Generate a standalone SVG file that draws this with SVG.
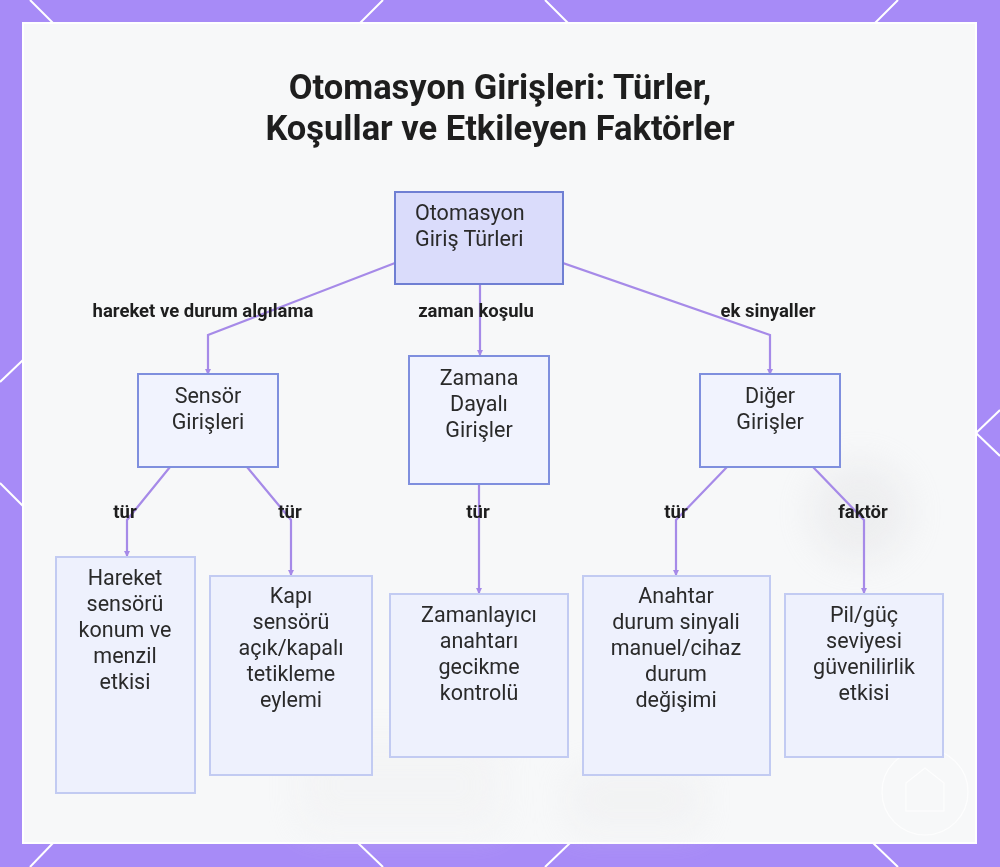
<svg xmlns="http://www.w3.org/2000/svg" width="1000" height="867" viewBox="0 0 1000 867">
<defs>
<style>
.title{font-family:Roboto,"Liberation Sans",sans-serif;font-weight:700;font-size:34.5px;fill:#1e1e1e;text-anchor:middle}
.t{font-family:Roboto,"Liberation Sans",sans-serif;font-size:21.5px;fill:#2a2a2a;text-anchor:middle}
.lbl{font-family:Roboto,"Liberation Sans",sans-serif;font-weight:700;font-size:18.5px;fill:#1e1e1e;text-anchor:middle}
.edge{fill:none;stroke:#a68ae8;stroke-width:2.2;marker-end:url(#ah)}
.root{fill:#dadcfb;stroke:#6f7fd3;stroke-width:2}
.mid{fill:#f1f3fe;stroke:#7f8fde;stroke-width:2}
.leaf{fill:#eef1fd;stroke:#c2cbf2;stroke-width:2}
.deco{stroke:#ffffff;stroke-width:2;fill:none}
</style>
<marker id="ah" viewBox="0 0 6 6" refX="5" refY="3" markerWidth="3" markerHeight="3" orient="auto" markerUnits="strokeWidth">
<path d="M0,0 L6,3 L0,6 z" fill="#a68ae8"/>
</marker>
<filter id="blur" x="-50%" y="-50%" width="200%" height="200%"><feGaussianBlur stdDeviation="18"/></filter>
</defs>
<rect x="0" y="0" width="1000" height="867" fill="#a78bf7"/>
<g id="border-deco">
<line class="deco" x1="30" y1="0" x2="53" y2="23"/>
<line class="deco" x1="383" y1="0" x2="360" y2="23"/>
<line class="deco" x1="545" y1="0" x2="568" y2="23"/>
<line class="deco" x1="898" y1="0" x2="875" y2="23"/>
<line class="deco" x1="53" y1="843" x2="30" y2="867"/>
<line class="deco" x1="358" y1="843" x2="383" y2="867"/>
<line class="deco" x1="570" y1="843" x2="545" y2="867"/>
<line class="deco" x1="873" y1="843" x2="898" y2="867"/>
<line class="deco" x1="23" y1="360" x2="0" y2="382"/>
<line class="deco" x1="0" y1="483" x2="23" y2="506"/>
<line class="deco" x1="1000" y1="410" x2="976" y2="433"/>
<line class="deco" x1="976" y1="433" x2="1000" y2="456"/>
</g>
<rect x="23" y="23" width="953" height="820" fill="#f7f8f9" stroke="#ffffff" stroke-width="2"/>
<g id="bg" opacity="0.3">
<circle cx="860" cy="512" r="50" fill="#d8d8dc" filter="url(#blur)"/>
<rect x="300" y="740" width="200" height="90" fill="#ececee" filter="url(#blur)"/>
<rect x="570" y="770" width="130" height="60" fill="#e6e6e8" filter="url(#blur)"/>
</g>
<g id="watermark" opacity="0.8">
<circle cx="925" cy="792" r="43" fill="none" stroke="#ffffff" stroke-width="1.2"/>
<path d="M906,811 L906,783 L925,768 L944,783 L944,811 Z" fill="none" stroke="#ffffff" stroke-width="1.2"/>
</g>
<g id="title">
<text class="title" x="500" y="99">Otomasyon Girişleri: Türler,</text>
<text class="title" x="500" y="140">Koşullar ve Etkileyen Faktörler</text>
</g>
<g id="connectors">
<path class="edge" d="M395,263 L208,335 L208,374"/>
<path class="edge" d="M480,284 L480,355"/>
<path class="edge" d="M563,263 L770,335 L770,374"/>
<path class="edge" d="M170,467 L127,520 L127,556"/>
<path class="edge" d="M247,467 L291,520 L291,575"/>
<path class="edge" d="M479,484 L479,593"/>
<path class="edge" d="M727,467 L676,520 L676,575"/>
<path class="edge" d="M813,467 L864,520 L864,593"/>
</g>
<g id="edge-labels">
<text class="lbl" x="203" y="317">hareket ve durum algılama</text>
<text class="lbl" x="476" y="317">zaman koşulu</text>
<text class="lbl" x="768" y="317">ek sinyaller</text>
<text class="lbl" x="125" y="518">tür</text>
<text class="lbl" x="290" y="518">tür</text>
<text class="lbl" x="478" y="518">tür</text>
<text class="lbl" x="676" y="518">tür</text>
<text class="lbl" x="863" y="518">faktör</text>
</g>
<g id="node-root">
<rect class="root" x="395" y="192" width="168" height="92"/>
<text class="t" x="415" y="220" style="text-anchor:start">Otomasyon</text>
<text class="t" x="415" y="246" style="text-anchor:start">Giriş Türleri</text>
</g>
<g id="node-sensor">
<rect class="mid" x="138" y="374" width="140" height="93"/>
<text class="t" x="208" y="403">Sensör</text>
<text class="t" x="208" y="429">Girişleri</text>
</g>
<g id="node-zaman">
<rect class="mid" x="409" y="356" width="140" height="128"/>
<text class="t" x="479" y="385">Zamana</text>
<text class="t" x="479" y="411">Dayalı</text>
<text class="t" x="479" y="437">Girişler</text>
</g>
<g id="node-diger">
<rect class="mid" x="700" y="374" width="140" height="93"/>
<text class="t" x="770" y="403">Diğer</text>
<text class="t" x="770" y="429">Girişler</text>
</g>
<g id="node-hareket">
<rect class="leaf" x="56" y="557" width="139" height="236"/>
<text class="t" x="125" y="585">Hareket</text>
<text class="t" x="125" y="611">sensörü</text>
<text class="t" x="125" y="637">konum ve</text>
<text class="t" x="125" y="663">menzil</text>
<text class="t" x="125" y="689">etkisi</text>
</g>
<g id="node-kapi">
<rect class="leaf" x="210" y="576" width="162" height="199"/>
<text class="t" x="291" y="603">Kapı</text>
<text class="t" x="291" y="629">sensörü</text>
<text class="t" x="291" y="655">açık/kapalı</text>
<text class="t" x="291" y="681">tetikleme</text>
<text class="t" x="291" y="707">eylemi</text>
</g>
<g id="node-zamanlayici">
<rect class="leaf" x="390" y="594" width="178" height="163"/>
<text class="t" x="479" y="622">Zamanlayıcı</text>
<text class="t" x="479" y="648">anahtarı</text>
<text class="t" x="479" y="674">gecikme</text>
<text class="t" x="479" y="700">kontrolü</text>
</g>
<g id="node-anahtar">
<rect class="leaf" x="583" y="576" width="187" height="199"/>
<text class="t" x="676" y="603">Anahtar</text>
<text class="t" x="676" y="629">durum sinyali</text>
<text class="t" x="676" y="655">manuel/cihaz</text>
<text class="t" x="676" y="681">durum</text>
<text class="t" x="676" y="707">değişimi</text>
</g>
<g id="node-pil">
<rect class="leaf" x="785" y="594" width="158" height="163"/>
<text class="t" x="864" y="622">Pil/güç</text>
<text class="t" x="864" y="648">seviyesi</text>
<text class="t" x="864" y="674">güvenilirlik</text>
<text class="t" x="864" y="700">etkisi</text>
</g>
</svg>
